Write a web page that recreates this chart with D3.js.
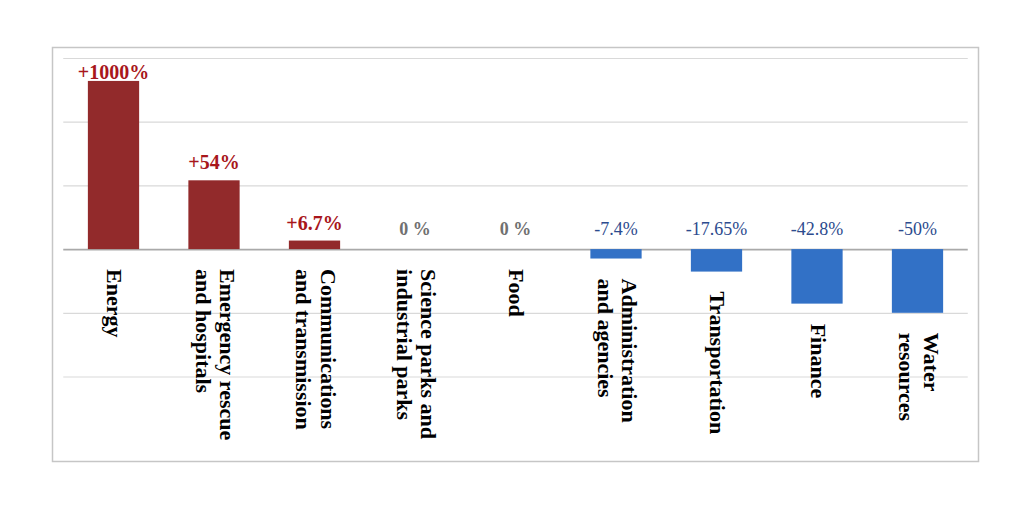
<!DOCTYPE html>
<html>
<head>
<meta charset="utf-8">
<script src="https://cdn.jsdelivr.net/npm/d3@7"></script>
<style>
  body { margin: 0; background: #fff; }
</style>
</head>
<body>
<div id="chart"></div>
<script>
// categories, one per bar (line breaks as in the picture)
var categories = [
  ["Energy"],
  ["Emergency rescue", "and hospitals"],
  ["Communications", "and transmission"],
  ["Science parks and", "industrial parks"],
  ["Food"],
  ["Administration", "and agencies"],
  ["Transportation"],
  ["Finance"],
  ["Water", "resources"]
];
// bar heights as drawn on the % axis (Energy is cut off, its real value is +1000%)
var barValues = [132, 54, 6.7, 0, 0, -7.4, -17.65, -42.8, -50];
var valueLabels = ["+1000%", "+54%", "+6.7%", "0 %", "0 %", "-7.4%", "-17.65%", "-42.8%", "-50%"];
var gridTicks = [-100, -50, 0, 50, 100, 150];

var svgWidth = 1024;
var svgHeight = 509;

var svg = d3.select("#chart")
  .append("svg")
  .attr("width", svgWidth)
  .attr("height", svgHeight);

// outer frame
svg.append("rect")
  .attr("x", 52.5)
  .attr("y", 47.5)
  .attr("width", 926)
  .attr("height", 414)
  .attr("fill", "#fff")
  .attr("stroke", "#c6c6c6")
  .attr("stroke-width", 1.5);

var keys = categories.map(function(c, i) { return i; });

var x = d3.scaleBand()
  .domain(keys)
  .range([63.25, 967.75])
  .paddingInner(0.49)
  .paddingOuter(0.245);

var y = d3.scaleLinear()
  .domain([-100, 150])
  .range([376.5, 58]);

// gridlines
var gridAxis = d3.axisLeft(y)
  .tickValues(gridTicks)
  .tickSize(-(x.range()[1] - x.range()[0]))
  .tickFormat("");

var grid = svg.append("g")
  .attr("transform", `translate(${x.range()[0]}, 0)`)
  .call(gridAxis);
grid.select(".domain").remove();
grid.selectAll(".tick line")
  .attr("stroke", function(d) { return d === 0 ? "#a9a9a9" : "#d9d9d9"; })
  .attr("stroke-width", function(d) { return d === 0 ? 1.6 : 1.2; });

// bars
svg.append("g")
  .selectAll("rect")
  .data(barValues)
  .enter()
  .append("rect")
  .attr("x", function(d, i) { return x(i); })
  .attr("width", x.bandwidth())
  .attr("y", function(d) { return y(Math.max(0, d)); })
  .attr("height", function(d) { return Math.abs(y(d) - y(0)); })
  .attr("fill", function(d) { return d > 0 ? "#922a2b" : "#3271c6"; });

// value labels
svg.append("g")
  .selectAll("text")
  .data(barValues)
  .enter()
  .append("text")
  .attr("transform", function(d, i) {
    var cx = x(i) + x.bandwidth() / 2;
    var by = Math.min(y(0), y(d)) - (d > 0 ? 11 : 14);
    by = Math.max(by, 79);
    return `translate(${cx}, ${by}) scale(1, 1.1)`;
  })
  .attr("text-anchor", "middle")
  .attr("font-family", "'Liberation Serif', 'Times New Roman', serif")
  .attr("font-size", function(d) { return d > 0 ? "20px" : "18px"; })
  .attr("font-weight", function(d) { return d < 0 ? "normal" : "bold"; })
  .attr("fill", function(d) { return d > 0 ? "#a8161b" : (d === 0 ? "#707070" : "#2d4b8e"); })
  .text(function(d, i) { return valueLabels[i]; });

// category labels, rotated to read downward
var catLabels = svg.append("g")
  .selectAll("text")
  .data(categories)
  .enter()
  .append("text")
  .attr("transform", function(d, i) {
    var cx = x(i) + x.bandwidth() / 2;
    var top = Math.max(y(0), y(barValues[i])) + 20;
    return `translate(${cx}, ${top}) rotate(90) scale(1.1, 1)`;
  })
  .attr("font-family", "'Liberation Serif', 'Times New Roman', serif")
  .attr("font-size", "20px")
  .attr("font-weight", "bold")
  .attr("fill", "#000");

catLabels.selectAll("tspan")
  .data(function(d) { return d.map(function(line, j) { return { line: line, j: j, n: d.length }; }); })
  .enter()
  .append("tspan")
  .attr("x", 0)
  .attr("y", function(d) { return (d.j - (d.n - 1) / 2) * 25 + 6; })
  .text(function(d) { return d.line; });
</script>
</body>
</html>
